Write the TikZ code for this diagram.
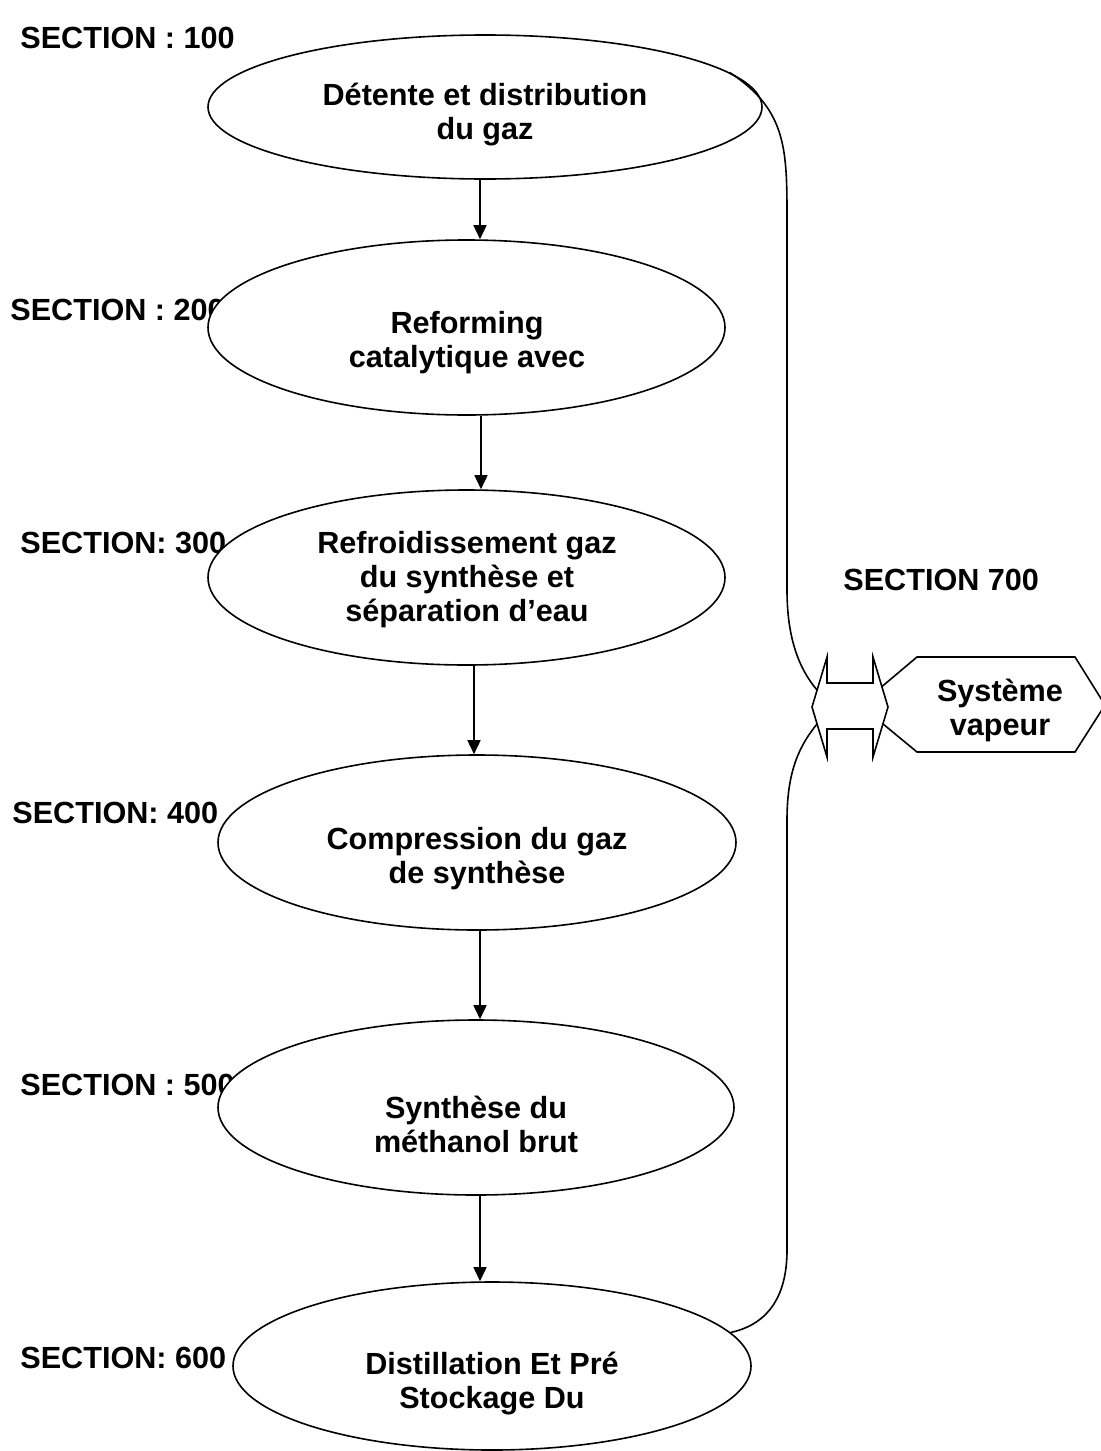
\documentclass[tikz,border=0pt]{standalone}
\usepackage{fontspec}
\setmainfont{Liberation Sans}
\usetikzlibrary{shapes.geometric,arrows.meta}
\tikzstyle{sec} = [draw=black, fill=white, ellipse, inner sep=0pt, line width=0.8pt]
\tikzstyle{txt} = [align=center, inner sep=0pt, font={\fontsize{15.3}{17}\selectfont\bfseries}]
\tikzstyle{lbl} = [anchor=west, inner sep=0pt, font={\fontsize{15.3}{17}\selectfont\bfseries}]
\tikzstyle{flow} = [line width=0.8pt, -{Triangle[length=7pt,width=6.5pt]}]
\tikzstyle{pipe} = [line width=0.8pt]

\begin{document}
\begin{tikzpicture}[x=0.5pt,y=-0.5pt]
  \useasboundingbox (0,0) rectangle (1100,1451);
  \node[lbl](l100) at (20,38){SECTION : 100};
  \node[lbl](l200) at (10,310){SECTION : 200};
  \node[lbl](l300) at (20,543){SECTION: 300};
  \node[lbl](l400) at (12,813){SECTION: 400};
  \node[lbl](l500) at (20,1085){SECTION : 500};
  \node[lbl](l600) at (20,1358){SECTION: 600};
  \node[lbl](l700) at (843,580){SECTION 700};
  \node[sec,minimum width=277pt,minimum height=72pt](s100) at (485,107){};
  \node[sec,minimum width=258.5pt,minimum height=87.5pt](s200) at (466.5,327.5){};
  \node[sec,minimum width=258.5pt,minimum height=87.5pt](s300) at (466.5,577.5){};
  \node[sec,minimum width=259pt,minimum height=87.5pt](s400) at (477,842.5){};
  \node[sec,minimum width=258pt,minimum height=87.5pt](s500) at (476,1107.5){};
  \node[sec,minimum width=259pt,minimum height=84pt](s600) at (492,1366){};
  \node[txt](t100) at (485,115){Détente et distribution\\du gaz};
  \node[txt](t200) at (467,343){Reforming\\catalytique avec};
  \node[txt](t300) at (467,580){Refroidissement gaz\\du synthèse et\\séparation d’eau};
  \node[txt](t400) at (477,859){Compression du gaz\\de synthèse};
  \node[txt](t500) at (476,1124){Synthèse du\\méthanol brut};
  \node[txt](t600) at (492,1384){Distillation Et Pré\\Stockage Du};
  \draw[flow]([xshift=-2.5pt]s100.south)--([xshift=-2.5pt]s100.south |- s200.north);
  \draw[flow]([xshift=7.25pt]s200.south)--([xshift=7.25pt]s200.south |- s300.north);
  \draw[flow]([xshift=3.75pt]s300.south)--([xshift=3.75pt]s300.south |- s400.north);
  \draw[flow]([xshift=1.5pt]s400.south)--([xshift=1.5pt]s400.south |- s500.north);
  \draw[flow]([xshift=2pt]s500.south)--([xshift=2pt]s500.south |- s600.north);
  \draw[pipe,fill=white] (860,705)--(917,657)--(1075,657)--(1105,705)--(1075,752)--(917,752)--cycle;
  \node[txt](vap) at (1000,710){Système\\vapeur};
  \coordinate (in) at (817,690);
  \coordinate (out) at (817,724);
  \draw[pipe] (s100.8) .. controls (787,110) and (787,150) .. (787,220)
    -- (787,590) .. controls (787,640) and (800,670) .. (in);
  \draw[pipe] (out) .. controls (800,745) and (787,770) .. (787,820)
    -- (787,1250) .. controls (787,1300) and (765,1325) .. (s600.8);
  \draw[pipe,fill=white] (812,707)--(827,657)--(827,683)--(873,683)--(873,657)--(888,707)
    --(873,757)--(873,729)--(827,729)--(827,757)--cycle;
\end{tikzpicture}
\end{document}
